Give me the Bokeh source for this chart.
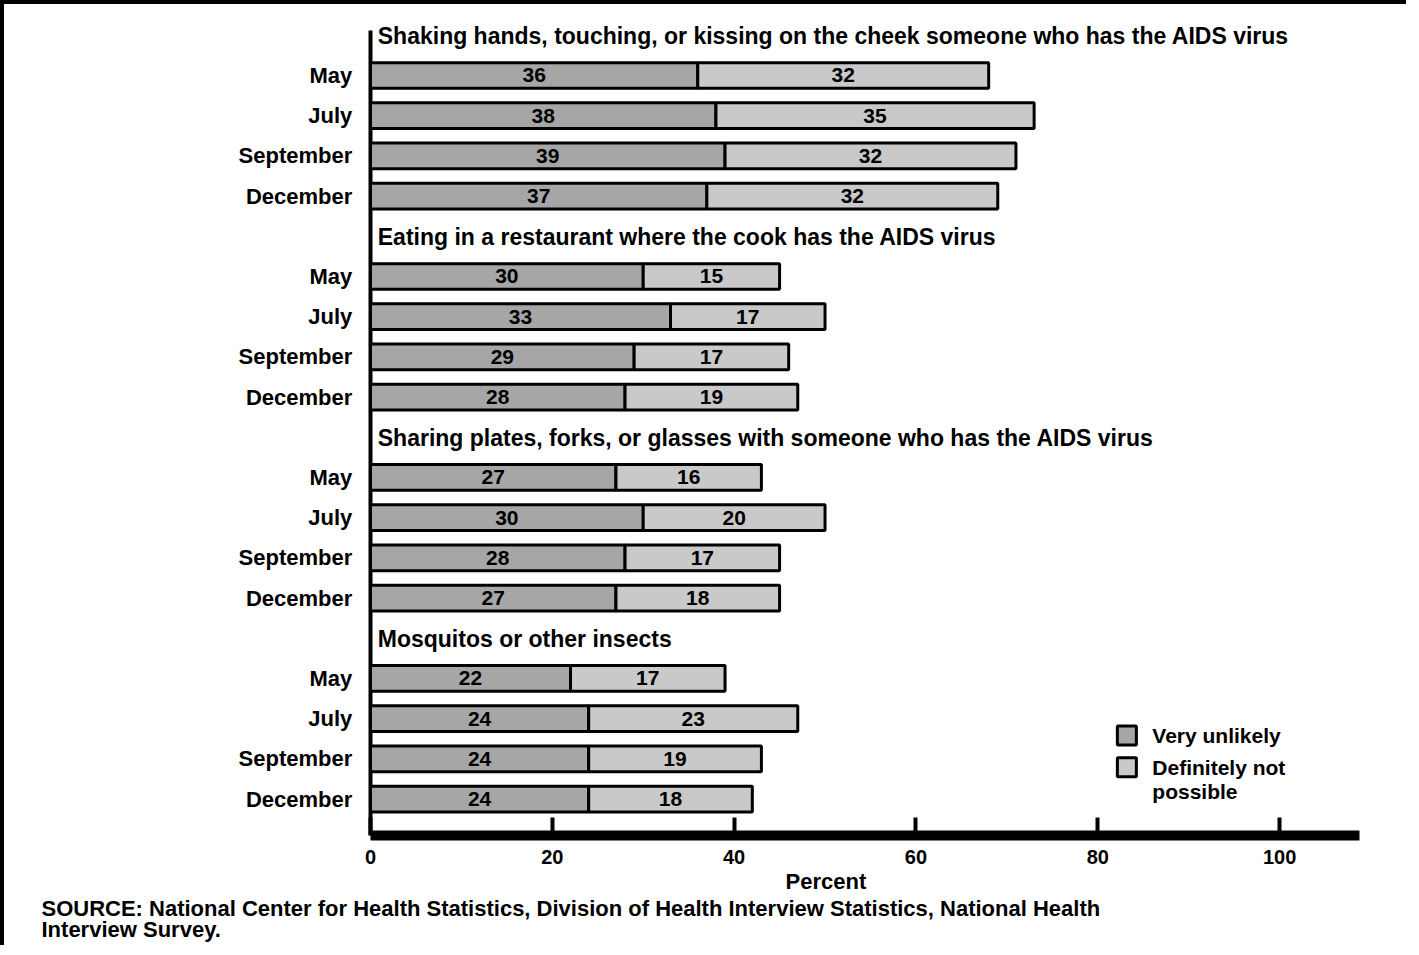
from bokeh.plotting import figure
from bokeh.models import ColumnDataSource, Range1d, FixedTicker, Title
from bokeh.core.properties import value
from bokeh.embed import file_html
from bokeh.resources import INLINE

questions = [
    "Shaking hands, touching, or kissing on the cheek someone who has the AIDS virus",
    "Eating in a restaurant where the cook has the AIDS virus",
    "Sharing plates, forks, or glasses with someone who has the AIDS virus",
    "Mosquitos or other insects",
]
months = ["May", "July", "September", "December"]
very_unlikely = [36, 38, 39, 37, 30, 33, 29, 28, 27, 30, 28, 27, 22, 24, 24, 24]
definitely_not = [32, 35, 32, 32, 15, 17, 17, 19, 16, 20, 17, 18, 17, 23, 19, 18]
x_ticks = [0, 20, 40, 60, 80, 100]
x_title = "Percent"
legend_labels = ["Very unlikely", "Definitely not", "possible"]
source_lines = [
    "SOURCE:  National Center for Health Statistics, Division of Health Interview Statistics, National Health",
    "Interview Survey.",
]

FONT = value("Liberation Sans")
DARK = "#a6a6a6"
LIGHT = "#c9c9c9"

rows, mlabels = [], []
for g in range(len(questions)):
    for m in range(len(months)):
        rows.append(g * 5 + m + 1)
        mlabels.append(months[m])
src = ColumnDataSource(dict(
    y=rows,
    vu=very_unlikely,
    dn=definitely_not,
    tot=[a + b for a, b in zip(very_unlikely, definitely_not)],
    zero=[0] * len(rows),
    m1=[a / 2 for a in very_unlikely],
    m2=[a + b / 2 for a, b in zip(very_unlikely, definitely_not)],
    vu_t=[str(a) for a in very_unlikely],
    dn_t=[str(b) for b in definitely_not],
    month=mlabels,
))

p = figure(width=1406, height=945, output_backend="svg", toolbar_location=None,
           x_range=Range1d(-39.6, 114.4), y_range=Range1d(19.906, -0.592),
           min_border_left=6, min_border_right=0, min_border_top=7, min_border_bottom=114)
p.styles = {"border-top": "4px solid black", "border-left": "4px solid black"}
p.outline_line_color = None
p.grid.visible = False
p.yaxis.visible = False
p.background_fill_color = "white"
p.border_fill_color = "white"

# y axis line at zero
p.segment(x0=[0], y0=[-0.12], x1=[0], y1=[19.906], line_color="black", line_width=4)

# bars
p.hbar(y="y", left="zero", right="vu", height=0.64, source=src, fill_color=DARK,
       line_color="black", line_width=3)
p.hbar(y="y", left="vu", right="tot", height=0.64, source=src, fill_color=LIGHT,
       line_color="black", line_width=3)

# values inside bars
for col, xcol in (("vu_t", "m1"), ("dn_t", "m2")):
    p.text(x=xcol, y="y", text=col, source=src, text_align="center", text_baseline="middle",
           text_font=FONT, text_font_style="bold", text_font_size="21px", text_color="black")

# month labels
p.text(x=-2.0, y="y", text="month", source=src, text_align="right", text_baseline="middle",
       text_font=FONT, text_font_style="bold", text_font_size="22px", text_color="black")

# headings
p.text(x=[0.8] * len(questions), y=[g * 5 + 0.02 for g in range(len(questions))], text=questions,
       text_align="left", text_baseline="middle", text_font=FONT, text_font_style="bold",
       text_font_size="23px", text_color="black")

# legend
p.scatter(x=[83.2, 83.2], y=[17.42, 18.21], marker="square", size=19,
          fill_color=[DARK, LIGHT], line_color="black", line_width=3)
p.text(x=[86.0, 86.0, 86.0], y=[17.42, 18.21, 18.81], text=legend_labels,
       text_align="left", text_baseline="middle", text_font=FONT, text_font_style="bold",
       text_font_size="21px", text_color="black")

# x axis
ax = p.xaxis[0]
ax.ticker = FixedTicker(ticks=x_ticks)
ax.bounds = (0, 108.8)
ax.axis_line_width = 10
ax.axis_line_color = "black"
ax.major_tick_in = 18
ax.major_tick_out = 0
ax.major_tick_line_width = 4
ax.minor_tick_line_color = None
ax.major_label_standoff = 14
ax.major_label_text_font = "Liberation Sans"
ax.major_label_text_font_style = "bold"
ax.major_label_text_font_size = "20px"
ax.major_label_text_color = "black"

pt = Title(text=x_title, align="left", offset=775, standoff=0, text_font="Liberation Sans",
           text_font_style="bold", text_font_size="22px", text_color="black")
p.add_layout(pt, "below")

st = Title(text="\n".join(source_lines), align="left", offset=31, standoff=1,
           text_font="Liberation Sans", text_font_style="bold", text_font_size="22px",
           text_color="black", text_line_height=0.85)
p.add_layout(st, "below")

open("out.html", "w").write(file_html(p, INLINE))
